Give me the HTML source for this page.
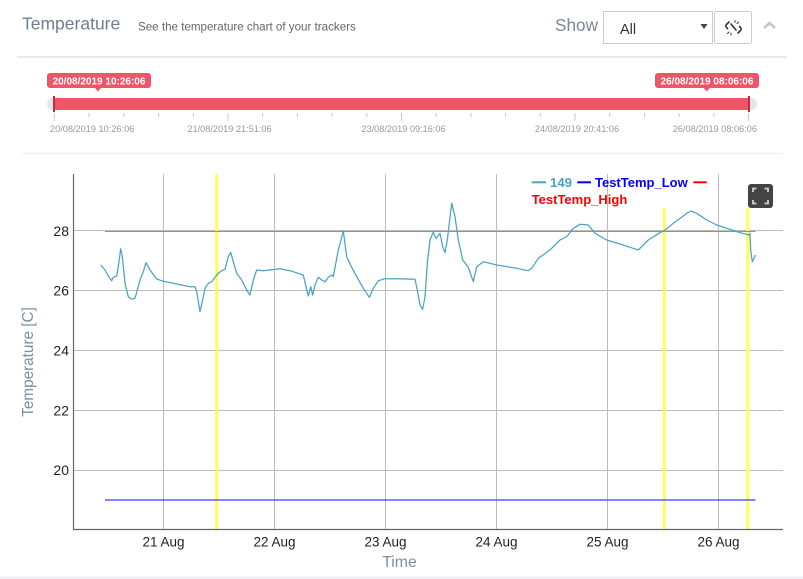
<!DOCTYPE html>
<html><head><meta charset="utf-8"><style>
html,body{margin:0;padding:0;background:#fff;}
svg{display:block;}
text{font-family:"Liberation Sans",Arial,sans-serif;}
</style></head><body>
<svg width="803" height="579" viewBox="0 0 803 579" xmlns="http://www.w3.org/2000/svg">
<rect width="803" height="579" fill="#fff"/>
<!-- header -->
<text x="22" y="29.5" font-size="17.5" fill="#6f7d92">Temperature</text>
<text x="138" y="30.5" font-size="11.6" fill="#666">See the temperature chart of your trackers</text>
<text x="555" y="31" font-size="17.2" fill="#7a8699">Show</text>
<rect x="603.5" y="11.5" width="109" height="32" fill="#fff" stroke="#ccc"/>
<text x="620" y="34" font-size="14.5" fill="#333">All</text>
<path d="M700.5 24 L707.5 24 L704 29 Z" fill="#444"/>
<rect x="714.5" y="11.5" width="37" height="32" rx="2" fill="#fff" stroke="#ccc"/>
<g stroke="#333" stroke-width="1.6" fill="none" stroke-linecap="round">
<path d="M729 22 l-2.5 2.5 a2 2 0 0 0 0 3 l1 1"/>
<path d="M738 33 l2.5 -2.5 a2 2 0 0 0 0 -3 l-1 -1"/>
<path d="M731 24 l5 6" />
</g>
<g stroke="#333" stroke-width="1" stroke-linecap="round">
<path d="M735 20.5 v2"/><path d="M738.5 22 l-1.5 1.5"/><path d="M731 35 v-2"/><path d="M727.5 33.5 l1.5 -1.5"/>
</g>
<path d="M764 28 L769.5 23 L775 28" stroke="#c3c7cc" stroke-width="2.6" fill="none"/>
<rect x="17" y="56" width="770" height="2" fill="#e6e9ed"/>

<!-- slider -->
<rect x="47" y="98" width="710" height="12" rx="6" fill="#e4e6ea"/>
<rect x="54" y="98" width="695" height="12" fill="#ee5566"/>
<rect x="53" y="96" width="2" height="16" fill="#cc2a3c"/>
<rect x="748" y="96" width="2" height="16" fill="#cc2a3c"/>
<g stroke="#c8c8c8" stroke-width="1">
<path d="M54.3 113v8M89 113v4M123.8 113v4M158.5 113v4M193.3 113v4M228 113v8M262.7 113v4M297.4 113v4M332.1 113v4M366.8 113v4M401.5 113v8M436.2 113v4M470.9 113v4M505.6 113v4M540.3 113v4M575 113v8M609.8 113v4M644.5 113v4M679.2 113v4M713.9 113v4M748.6 113v8"/>
</g>
<g font-size="9.2" fill="#999">
<text x="50" y="132">20/08/2019 10:26:06</text>
<text x="229.5" y="132" text-anchor="middle">21/08/2019 21:51:06</text>
<text x="403.5" y="132" text-anchor="middle">23/08/2019 09:16:06</text>
<text x="577" y="132" text-anchor="middle">24/08/2019 20:41:06</text>
<text x="757" y="132" text-anchor="end">26/08/2019 08:06:06</text>
</g>
<rect x="47" y="73" width="104" height="15" rx="3" fill="#ee5566"/>
<path d="M95 88 L98 91.5 L101 88 Z" fill="#ee5566"/>
<text x="99" y="84.3" font-size="10" font-weight="bold" fill="#fff" text-anchor="middle">20/08/2019 10:26:06</text>
<rect x="655" y="73" width="104" height="15" rx="3" fill="#ee5566"/>
<path d="M703.7 88 L706.7 91.5 L709.7 88 Z" fill="#ee5566"/>
<text x="707" y="84.3" font-size="10" font-weight="bold" fill="#fff" text-anchor="middle">26/08/2019 08:06:06</text>
<rect x="22" y="153" width="761" height="1" fill="#eceef1"/>

<!-- chart grid -->
<g stroke="#bdbdbd" stroke-width="1">
<path d="M73 230.5H783M73 290.5H783M73 350.5H783M73 410.5H783M73 470.5H783"/>
<path d="M163.5 174V529M274.5 174V529M385.5 174V529M496.5 174V529M607.5 174V529M718.5 174V529"/>
</g>
<!-- yellow markers -->
<g fill="#ffff5a">
<rect x="215.2" y="174" width="3" height="355"/>
<rect x="662.8" y="208" width="3" height="321"/>
<rect x="746.2" y="208" width="3" height="321"/>
</g>
<!-- thresholds -->
<path d="M105 231.5H755.5" stroke="#ef6b6b" stroke-width="1"/>
<path d="M105 500H755.5" stroke="#3a3aff" stroke-width="1.2"/>
<!-- axes -->
<path d="M73.5 174V529.5H783" stroke="#666" stroke-width="1.2" fill="none"/>
<!-- series -->
<polyline fill="none" stroke="#4aa3c2" stroke-width="1.25" stroke-linejoin="round" points="100.7,265 105,270 108.3,276 111.7,280.7 113.3,277.3 116.7,276 118.3,266.7 120.7,248.7 122.3,256.7 125,283.3 128.3,296.7 131.7,299.3 135,298.3 137.3,290 140,280 143.3,271.7 146,262.7 150,270 156.7,279 163.3,281.3 176.7,284 190,286.7 195,286.7 196.7,291.7 200,311.7 202.3,301.7 205,288.3 208.3,283.3 211.7,281.7 215,277.3 218.3,273.3 221.7,270.7 225,269.3 228.3,256.7 230.7,252.3 233.3,261.7 236.7,273.3 241.7,280 246.7,290 250,295 253.3,280 256.7,270 263.3,270.7 280,268.7 290,270.7 303.3,275 306,286.7 308.3,296 310.7,286.7 312.7,295 315,285 318.3,277.3 321.7,280 325,281.7 328.3,277.3 331.7,275 333.3,276.7 338.3,250 343.3,231 346.7,256.7 351.7,267.3 356.7,276.7 363.3,288.3 369.3,297.3 373.3,288.3 378.3,280.7 385,278.7 396.7,278.7 415,279.3 417.3,290 420,305 422.7,309.3 425,296.7 427.3,263.3 430,240 433.3,232.3 436,238.3 440,233.3 442.7,246.7 445,252.7 447.3,240 451.7,203.3 455,216.7 458.3,240 462.7,260 468.3,267.3 473.3,281.7 476.7,266.7 483.3,261.7 496.7,265 516.7,268.3 528.3,270.7 531.7,268.3 538.3,258.3 550,250 560,240 566.7,236.7 573.3,228.3 580,224.3 588.3,225 595,233.3 606.7,240 620,244 638.3,250 641.7,246.7 648.3,240 660,232.7 665,230 673.3,223.3 683.3,216 686.7,213.3 691,211 696.7,213.3 706.7,220 716.7,225 730,229.3 740,232.7 749,235 750,233.3 750.7,250 752.3,261.7 754,258.3 755.3,255"/>
<!-- y ticks -->
<g font-size="14" fill="#222" text-anchor="end">
<text x="69" y="236">28</text>
<text x="69" y="295.5">26</text>
<text x="69" y="355.5">24</text>
<text x="69" y="415.5">22</text>
<text x="69" y="475">20</text>
</g>
<!-- x ticks -->
<g font-size="13.5" fill="#222" text-anchor="middle">
<text x="163.5" y="546.5">21 Aug</text>
<text x="274.5" y="546.5">22 Aug</text>
<text x="385.5" y="546.5">23 Aug</text>
<text x="496.5" y="546.5">24 Aug</text>
<text x="607.5" y="546.5">25 Aug</text>
<text x="718.5" y="546.5">26 Aug</text>
</g>
<text x="399.5" y="567" font-size="15.8" fill="#7d8ea3" text-anchor="middle">Time</text>
<text transform="translate(33,362) rotate(-90)" font-size="15.3" fill="#7d8ea3" text-anchor="middle">Temperature [C]</text>
<!-- legend -->
<rect x="531.7" y="181.3" width="14.3" height="2" fill="#4aa3c2"/>
<text x="550" y="187" font-size="13.2" font-weight="bold" fill="#4aa3c2">149</text>
<rect x="577.3" y="181.3" width="13.7" height="2" fill="#0000ff"/>
<text x="595" y="187" font-size="13" font-weight="bold" fill="#0000ff">TestTemp_Low</text>
<rect x="693.3" y="181.3" width="13.4" height="2" fill="#ff0000"/>
<text x="531.7" y="204" font-size="13" font-weight="bold" fill="#ff0000">TestTemp_High</text>
<!-- fullscreen button -->
<rect x="748" y="184" width="25" height="24" rx="3" fill="#444"/>
<g stroke="#d0d0d0" stroke-width="1.8" fill="none">
<path d="M753 192v-3.5h3.5M764.5 188.5h3.5v3.5M768 200v3.5h-3.5M756.5 203.5h-3.5v-3.5"/>
</g>
<rect x="0" y="576.5" width="803" height="2" fill="#eceef2"/>
</svg>
</body></html>
